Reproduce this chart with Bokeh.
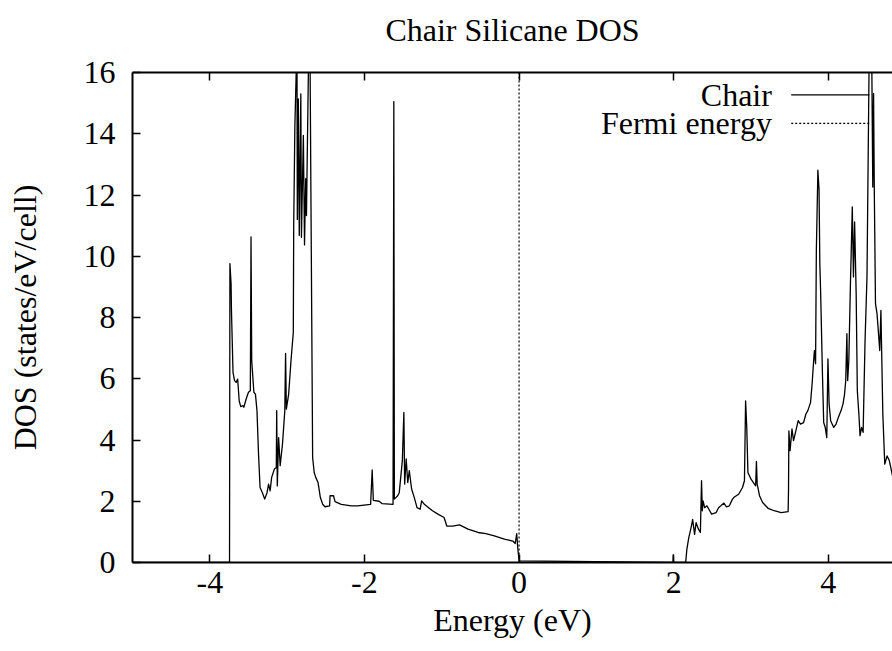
from bokeh.plotting import figure
from bokeh.models import Range1d, LinearAxis, FixedTicker, Label, Span
from bokeh.embed import file_html
from bokeh.resources import INLINE

# Density of states of chair silicane (energies relative to the Fermi level)
valence_energy = [
    -5.000, -3.745, -3.740, -3.725, -3.720, -3.700, -3.680, -3.660, -3.640, -3.620,
    -3.600, -3.570, -3.560, -3.530, -3.500, -3.476, -3.467, -3.458, -3.430, -3.410,
    -3.390, -3.370, -3.350, -3.320, -3.290, -3.260, -3.240, -3.220, -3.200, -3.165,
    -3.140, -3.135, -3.127, -3.110, -3.090, -3.060, -3.030, -3.020, -3.010, -2.980,
    -2.950, -2.920, -2.915, -2.900, -2.873, -2.868, -2.855, -2.843, -2.823, -2.815,
    -2.790, -2.775, -2.760, -2.750, -2.720, -2.705, -2.670, -2.650, -2.630, -2.600,
    -2.570, -2.540, -2.510, -2.450, -2.445, -2.400, -2.380, -2.300, -2.170, -2.090,
    -1.920, -1.900, -1.885, -1.810, -1.770, -1.630, -1.620, -1.613, -1.570, -1.550,
    -1.510, -1.490, -1.480, -1.460, -1.440, -1.420, -1.390, -1.355, -1.320, -1.280,
    -1.260, -1.225, -1.170, -1.120, -1.050, -0.970, -0.935, -0.860, -0.770, -0.660,
    -0.530, -0.430, -0.320, -0.190, -0.080, -0.050, -0.030, -0.017, 0.000,
]
valence_dos = [
    0.00, 0.00, 9.76, 9.10, 8.23, 6.21, 5.94, 5.88, 5.99, 5.28,
    5.09, 5.12, 5.07, 5.34, 5.56, 5.61, 10.63, 6.59, 5.56, 5.50,
    4.96, 3.54, 2.45, 2.28, 2.07, 2.28, 2.56, 2.34, 2.78, 3.05,
    3.10, 4.96, 2.50, 4.08, 3.16, 3.87, 4.96, 6.83, 5.01, 5.50,
    6.59, 7.52, 10.96, 14.23, 17.00, 11.20, 15.14, 10.68, 15.30, 10.62,
    13.95, 10.37, 12.53, 11.33, 17.00, 17.00, 3.43, 2.94, 2.78, 2.61,
    2.12, 1.90, 1.82, 1.85, 2.18, 2.18, 1.99, 1.90, 1.85, 1.85,
    1.90, 3.02, 2.03, 2.00, 1.92, 1.90, 15.05, 2.07, 2.18, 2.28,
    3.32, 4.90, 2.56, 3.38, 2.61, 3.00, 2.40, 2.12, 1.79, 1.74,
    2.01, 1.90, 1.79, 1.69, 1.58, 1.47, 1.19, 1.19, 1.23, 1.09,
    0.98, 0.94, 0.87, 0.76, 0.70, 0.62, 0.94, 0.48, 0.05,
]
conduction_energy = [
    0.000, 1.990, 1.995, 2.000, 2.155, 2.170, 2.195, 2.225, 2.245, 2.270,
    2.290, 2.320, 2.345, 2.360, 2.370, 2.380, 2.400, 2.430, 2.455, 2.490,
    2.550, 2.580, 2.610, 2.650, 2.680, 2.720, 2.760, 2.785, 2.840, 2.890,
    2.915, 2.930, 2.945, 2.960, 3.000, 3.060, 3.070, 3.080, 3.110, 3.150,
    3.220, 3.300, 3.390, 3.480, 3.485, 3.490, 3.505, 3.530, 3.550, 3.580,
    3.610, 3.640, 3.680, 3.710, 3.735, 3.770, 3.790, 3.810, 3.820, 3.835,
    3.845, 3.865, 3.880, 3.890, 3.900, 3.925, 3.940, 3.960, 3.980, 3.995,
    4.010, 4.030, 4.070, 4.100, 4.130, 4.165, 4.190, 4.210, 4.225, 4.240,
    4.250, 4.265, 4.285, 4.310, 4.325, 4.340, 4.360, 4.375, 4.395, 4.410,
    4.430, 4.450, 4.475, 4.500, 4.515, 4.530, 4.560, 4.575, 4.585, 4.595,
    4.610, 4.630, 4.665, 4.680, 4.705, 4.730, 4.760, 4.790, 4.830, 4.900,
]
conduction_dos = [
    0.00, 0.00, 0.25, 0.00, 0.00, 0.43, 0.81, 1.14, 1.41, 0.92,
    1.30, 1.09, 0.98, 2.67, 1.69, 2.01, 1.79, 1.85, 1.74, 1.58,
    1.63, 1.79, 1.85, 1.94, 1.82, 1.85, 2.07, 2.14, 2.23, 2.45,
    2.67, 5.28, 4.41, 2.94, 2.72, 2.50, 3.30, 2.56, 2.18, 1.96,
    1.77, 1.69, 1.63, 1.66, 2.34, 4.30, 3.65, 4.36, 3.98, 4.30,
    4.63, 4.52, 4.57, 4.85, 4.96, 5.23, 5.83, 6.59, 6.92, 6.49,
    10.19, 12.81, 12.16, 9.76, 8.88, 6.05, 4.57, 4.41, 4.08, 6.65,
    5.18, 4.63, 4.41, 4.52, 4.74, 4.96, 5.18, 5.50, 5.94, 7.47,
    5.94, 6.59, 8.99, 11.61, 9.32, 11.12, 8.78, 5.61, 4.85, 4.14,
    4.41, 4.25, 7.25, 9.32, 13.14, 17.00, 17.00, 12.26, 15.32, 12.05,
    8.45, 8.12, 6.92, 8.23, 4.85, 3.21, 3.48, 3.32, 2.83, 2.70,
]
fermi_energy = 0.0

x_ticks = [-4, -2, 0, 2, 4]
x_tick_labels = ["-4", "-2", "0", "2", "4"]
y_ticks = [0, 2, 4, 6, 8, 10, 12, 14, 16]

FONT = "Liberation Serif"
FS = "32px"

energy = valence_energy + conduction_energy[1:]
dos = valence_dos + conduction_dos[1:]

p = figure(width=892, height=651, output_backend="svg", toolbar_location=None,
           x_range=Range1d(-5, 4.83), y_range=Range1d(0, 16),
           min_border_left=132, min_border_right=0,
           min_border_top=72, min_border_bottom=89)
p.outline_line_color = None
p.grid.visible = False
p.background_fill_color = "white"
p.border_fill_color = "white"

bottom_axis = p.xaxis[0]
left_axis = p.yaxis[0]

# gnuplot-like frame: inward ticks mirrored on the top edge, no minor ticks;
# the top edge also carries the chart title
top_axis = LinearAxis()
p.add_layout(top_axis, "above")
for ax in (bottom_axis, left_axis, top_axis):
    ax.major_tick_in = 8
    ax.major_tick_out = 0
    ax.minor_tick_line_color = None
    ax.axis_line_width = 2
    ax.axis_line_color = "black"
    ax.major_tick_line_width = 1.5
    ax.major_tick_line_color = "black"
    ax.major_label_text_font = FONT
    ax.major_label_text_font_size = FS
    ax.major_label_text_color = "black"
    ax.axis_label_text_font = FONT
    ax.axis_label_text_font_size = FS
    ax.axis_label_text_font_style = "normal"
    ax.axis_label_text_color = "black"

bottom_axis.ticker = FixedTicker(ticks=x_ticks)
bottom_axis.major_label_overrides = dict(zip(x_ticks, x_tick_labels))
top_axis.ticker = FixedTicker(ticks=x_ticks)
top_axis.major_label_text_alpha = 0
top_axis.major_label_text_font_size = "1px"
top_axis.major_label_standoff = 0
top_axis.axis_label = "Chair Silicane DOS"
top_axis.axis_label_standoff = 25
left_axis.ticker = FixedTicker(ticks=y_ticks)

bottom_axis.axis_label = "Energy (eV)"
left_axis.axis_label = "DOS (states/eV/cell)"
bottom_axis.major_label_standoff = 9
bottom_axis.axis_label_standoff = 6
left_axis.major_label_standoff = 17
left_axis.axis_label_standoff = 38

# DOS curve
p.line(energy, dos, line_color="black", line_width=1.3, line_join="round")

# Fermi level
p.add_layout(Span(location=fermi_energy, dimension="height", line_color="black",
                  line_width=1.2, line_dash="2 2"))

# Key in the top right corner: label first, sample after
KEY_TEXT_X = 3.27
KEY_LINE_X0, KEY_LINE_X1 = 3.52, 4.53
KEY_ROWS = [15.27, 14.34]
p.add_layout(Label(x=KEY_TEXT_X, y=KEY_ROWS[0], text="Chair", text_font=FONT,
                   text_font_size=FS, text_align="right", text_baseline="middle",
                   text_color="black"))
p.add_layout(Label(x=KEY_TEXT_X, y=KEY_ROWS[1], text="Fermi energy", text_font=FONT,
                   text_font_size=FS, text_align="right", text_baseline="middle",
                   text_color="black"))
p.line([KEY_LINE_X0, KEY_LINE_X1], [KEY_ROWS[0], KEY_ROWS[0]], line_color="black",
       line_width=1.3)
p.line([KEY_LINE_X0, KEY_LINE_X1], [KEY_ROWS[1], KEY_ROWS[1]], line_color="black",
       line_width=1.2, line_dash="2 2")

open("out.html", "w").write(file_html(p, INLINE))
